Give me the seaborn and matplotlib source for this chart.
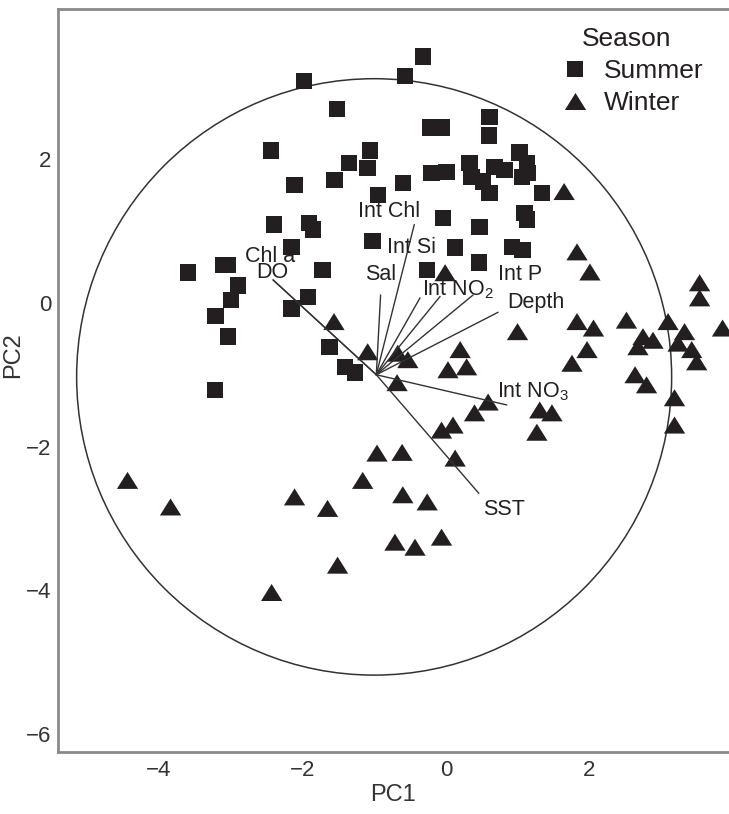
import numpy as np
import pandas as pd
import matplotlib
matplotlib.use("Agg")
import matplotlib.pyplot as plt
from matplotlib.patches import Circle
import seaborn as sns

# PCA scores
summer_pc1 = [-1.98, -1.52, -2.44, -1.06, -1.35, -1.09, -2.11, -1.55, -0.95,
              -2.40, -1.91, -1.85, -2.15, -1.02, -3.60, -3.10, -3.04, -2.90,
              -3.00, -3.21, -3.04, -1.72, -1.92, -2.15, -1.62, -1.41, -1.27,
              -3.22, -0.32, -0.57, -0.22, -0.06, 0.61, 0.60, -0.60, -0.20,
              0.01, 0.33, 0.36, 0.52, 0.61, 0.68, 0.82, 1.03, 1.13, 1.06,
              1.14, 1.34, -0.04, 0.47, 1.10, 1.13, 0.13, 0.92, 1.07, 0.46, -0.26]
summer_pc2 = [3.09, 2.70, 2.12, 2.12, 1.95, 1.88, 1.64, 1.71, 1.50,
              1.09, 1.11, 1.02, 0.78, 0.86, 0.42, 0.53, 0.53, 0.24,
              0.04, -0.18, -0.47, 0.46, 0.08, -0.08, -0.61, -0.89, -0.97,
              -1.21, 3.43, 3.16, 2.44, 2.44, 2.59, 2.33, 1.67, 1.81,
              1.82, 1.95, 1.75, 1.69, 1.53, 1.89, 1.85, 2.09, 1.95, 1.75,
              1.81, 1.53, 1.18, 1.06, 1.25, 1.16, 0.77, 0.78, 0.74, 0.56, 0.46]

winter_pc1 = [1.65, 1.83, 2.01, 3.54, 3.54, 1.00, 1.83, 2.06, 2.52, 2.75,
              2.89, 2.68, 3.10, 3.33, 3.24, 3.43, 3.50, 3.86, 1.97, 1.76,
              0.20, 0.03, 0.29, -0.01, -0.67, -0.53, -1.56, -1.09, -0.68, 0.59,
              0.40, 0.10, -0.06, -0.61, 0.13, -0.60, -0.26, -0.06, -0.71, -0.43,
              1.31, 1.48, 1.27, 2.80, 2.64, 3.19, 3.19, -4.44, -3.84, -2.11,
              -1.65, -0.96, -1.16, -1.51, -2.43]
winter_pc2 = [1.55, 0.71, 0.43, 0.28, 0.07, -0.40, -0.26, -0.35, -0.24, -0.47,
              -0.52, -0.61, -0.26, -0.40, -0.56, -0.65, -0.82, -0.35, -0.65, -0.84,
              -0.65, -0.93, -0.89, 0.42, -0.70, -0.79, -0.26, -0.68, -1.11, -1.38,
              -1.53, -1.70, -1.77, -2.08, -2.16, -2.67, -2.77, -3.26, -3.33, -3.40,
              -1.49, -1.53, -1.80, -1.14, -1.00, -1.32, -1.70, -2.47, -2.84, -2.70,
              -2.86, -2.09, -2.47, -3.65, -4.03]

# loading vectors (start point and end points)
vec_origin = (-0.97, -1.00)
vec_names = ["Int Chl", "Sal", "Int Si", "Int NO2", "Int P", "Depth",
             "Int NO3", "SST", "DO", "Chl a"]
vec_pc1 = [-0.44, -0.91, -0.36, -0.08, 0.38, 0.73, 0.85, 0.46, -2.41, -2.41]
vec_pc2 = [1.09, 0.11, 0.07, 0.09, 0.11, -0.13, -1.42, -2.65, 0.32, 0.32]

# where each vector label sits
label_text = {"Int Chl": "Int Chl", "Int Si": "Int Si", "Sal": "Sal",
              "Int NO2": "Int NO$_2$", "Int P": "Int P", "Depth": "Depth",
              "Int NO3": "Int NO$_3$", "SST": "SST", "Chl a": "Chl a", "DO": "DO"}
label_pos = {"Int Chl": (-1.23, 1.27), "Int Si": (-0.82, 0.77), "Sal": (-1.13, 0.40),
             "Int NO2": (-0.33, 0.18), "Int P": (0.73, 0.39), "Depth": (0.85, 0.0),
             "Int NO3": (0.71, -1.24), "SST": (0.52, -2.87), "Chl a": (-2.80, 0.65),
             "DO": (-2.64, 0.42)}

circle_center = (-1.00, -1.03)
circle_radius = 4.15

ink = "#231f20"

sns.set_style("white")
plt.rcParams["font.family"] = ["Liberation Sans", "DejaVu Sans"]
plt.rcParams["mathtext.fontset"] = "custom"
plt.rcParams["mathtext.rm"] = "Liberation Sans"
plt.rcParams["mathtext.it"] = "Liberation Sans"

df = pd.DataFrame({
    "PC1": summer_pc1 + winter_pc1,
    "PC2": summer_pc2 + winter_pc2,
    "Season": ["Summer"] * len(summer_pc1) + ["Winter"] * len(winter_pc1),
})

fig = plt.figure(figsize=(7.29, 8.14), dpi=100)
ax = fig.add_axes([58 / 729, 1 - 752 / 814, 1 - 58 / 729, (752 - 9) / 814])

tri = [(-1, -0.8), (1, -0.8), (0, 0.8)]
sns.scatterplot(data=df, x="PC1", y="PC2", hue="Season", style="Season", size="Season",
                palette={"Summer": ink, "Winter": ink},
                markers={"Summer": "s", "Winter": tri},
                sizes={"Summer": 140, "Winter": 235},
                linewidth=0, ax=ax, zorder=2)

ax.add_patch(Circle(circle_center, circle_radius, fill=False, lw=1.1, color="#333333", zorder=1))

for name, x1, y1 in zip(vec_names, vec_pc1, vec_pc2):
    ax.plot([vec_origin[0], x1], [vec_origin[1], y1], color="#333333", lw=1.0, zorder=3)

for name, (tx, ty) in label_pos.items():
    ax.text(tx, ty, label_text[name], fontsize=15.5, color=ink, ha="left", va="center", zorder=4)

ax.set_xlim(-5.41, 3.95)
ax.set_ylim(-6.25, 4.09)
ax.set_xticks([-4, -2, 0, 2])
ax.set_yticks([-6, -4, -2, 0, 2])
ax.set_xticklabels(["\u22124", "\u22122", "0", "2"])
ax.set_yticklabels(["\u22126", "\u22124", "\u22122", "0", "2"])
ax.tick_params(direction="in", length=11, width=1.2, color="#333333",
               labelsize=16, labelcolor="#333333", pad=6)
ax.tick_params(axis="y", pad=5)
ax.set_xlabel("PC1", fontsize=17, color="#333333", labelpad=2)
ax.set_ylabel("PC2", fontsize=17, color="#333333")
ax.yaxis.set_label_coords(-0.05, 0.534)
for side in ["left", "bottom", "top"]:
    ax.spines[side].set_color("#8a8a8a")
    ax.spines[side].set_linewidth(2)
ax.spines["right"].set_visible(False)

sns.move_legend(ax, "upper right", bbox_to_anchor=(0.99, 1.0), frameon=False,
                title="Season", fontsize=19, title_fontsize=19,
                handletextpad=0.1, labelspacing=0.3, borderaxespad=0.3)
for t in ax.get_legend().get_texts():
    t.set_color(ink)
ax.get_legend().get_title().set_color(ink)

fig.savefig("out.png", dpi=100)
